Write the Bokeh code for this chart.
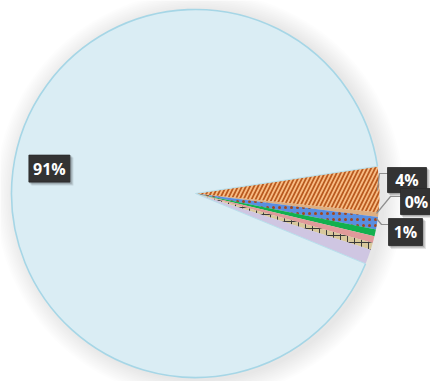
import math

from bokeh.plotting import figure
from bokeh.models import Range1d, ColumnDataSource
from bokeh.embed import file_html
from bokeh.resources import INLINE
from bokeh.core.properties import value

# ---- data -------------------------------------------------------------
categories = ["Orange", "Tan", "Blue", "Green", "Pink", "Khaki", "Lavender", "Light blue"]
shares = [4.0, 0.4, 1.1, 0.6, 0.6, 0.6, 1.3, 91.4]
labelled = ["Orange", "Tan", "Blue", "Light blue"]

# ---- styles -----------------------------------------------------------
fill_colors = ["#f8bc84", "#deae80", "#5a8ee0", "#12b04e", "#e09a9a", "#d8c89c", "#cfc6e2", "#daedf4"]
hatch_patterns = ["/", " ", ".", " ", " ", "+", " ", " "]
hatch_colors = ["#b9591e", "#000000", "#a2461c", "#000000", "#000000", "#3a3a3a", "#000000", "#000000"]
hatch_scales = [8, 6, 6, 6, 6, 7, 6, 6]
hatch_weights = [1.7, 1, 2.2, 1, 1, 1, 1, 1]

W, H = 430, 381
CX, CY = 195, H - 193          # pie centre (y measured upward)
R = 184
START_DEG = 8.5                # top edge of the first slice

p = figure(width=W, height=H, x_range=Range1d(0, W), y_range=Range1d(0, H),
           toolbar_location=None, output_backend="svg", min_border=0)
p.axis.visible = False
p.grid.visible = False
p.outline_line_color = None
p.background_fill_color = "white"
p.border_fill_color = "white"

# soft drop shadow around the pie
for i in range(1, 13):
    p.circle(x=[CX + 4], y=[CY - 2], radius=R + 1.7 * i,
             fill_color="black", fill_alpha=0.008, line_color=None)

# slices, laid out clockwise from the start angle
total = sum(shares)
tops, bots, mids = [], [], []
acc = 0.0
for s in shares:
    top = math.radians(START_DEG) - acc / total * 2 * math.pi
    bot = top - s / total * 2 * math.pi
    tops.append(top)
    bots.append(bot)
    mids.append((top + bot) / 2)
    acc += s

src = ColumnDataSource(dict(
    cat=categories, share=shares, start=bots, end=tops,
    fill=fill_colors, hatch=hatch_patterns, hcol=hatch_colors,
    hscale=hatch_scales, hweight=hatch_weights,
))
p.wedge(x=CX, y=CY, radius=R, start_angle="start", end_angle="end",
        source=src, fill_color="fill", line_color=None,
        hatch_pattern="hatch", hatch_color="hcol",
        hatch_scale="hscale", hatch_weight="hweight")

# outline of the large slice
big = categories.index("Light blue")
p.arc(x=CX, y=CY, radius=R, start_angle=bots[big], end_angle=tops[big],
      line_color="#a6d6e6", line_width=1.6)
p.segment(x0=[CX, CX], y0=[CY, CY],
          x1=[CX + R * math.cos(bots[big]), CX + R * math.cos(tops[big])],
          y1=[CY + R * math.sin(bots[big]), CY + R * math.sin(tops[big])],
          line_color="#b8dfec", line_width=1)


def sy(y):
    return H - y


# leader lines for the outside labels
leaders = {
    "Orange": ([377, 379, 388], [190, 173, 173]),
    "Tan": ([376, 390, 401], [213, 196, 196]),
    "Blue": ([376, 381, 388], [218, 224, 224]),
}
for name, (xs, ys) in leaders.items():
    p.line(x=xs, y=[sy(v) for v in ys], line_color="#8f8f8f", line_width=1.2)

# label boxes: centre (screen px), width, height
boxes = {
    "Orange": (406.5, 179.5, 39, 25),
    "Tan": (418, 201, 36, 26),
    "Blue": (405, 231.5, 34, 27),
}
mid_big = mids[big]
lx = CX + 0.8 * R * math.cos(mid_big)
ly = H - (CY + 0.8 * R * math.sin(mid_big)) - 7
boxes["Light blue"] = (lx, ly, 41, 27)

for name in labelled:
    i = categories.index(name)
    bx, by, bw, bh = boxes[name]
    for k, a in ((3, 0.10), (2, 0.12), (1, 0.14)):
        p.rect(x=[bx + k], y=[sy(by) - k], width=bw + 1, height=bh + 1,
               fill_color="black", fill_alpha=a, line_color=None)
    p.rect(x=[bx], y=[sy(by)], width=bw, height=bh,
           fill_color="#333333", line_color="#2a2a2a", line_width=0.8)
    p.text(x=[bx - (2 if name == "Tan" else 0)], y=[sy(by)],
           text=[f"{round(shares[i])}%"],
           text_color="white", text_font=value("Open Sans"),
           text_font_style="bold", text_font_size="16px",
           text_align="center", text_baseline="middle")

open("out.html", "w").write(file_html(p, INLINE))
